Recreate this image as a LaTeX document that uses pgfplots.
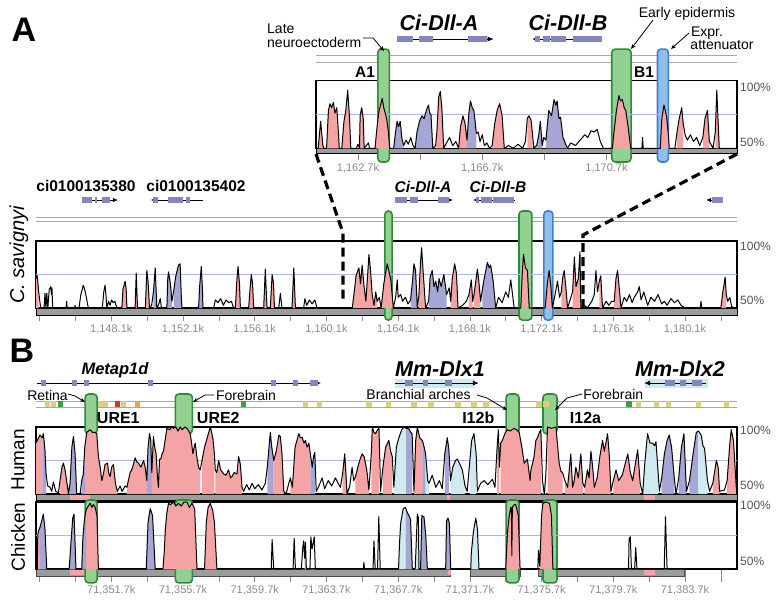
\documentclass[border=0pt]{standalone}
\usepackage{fontspec}
\setmainfont{Liberation Sans}
\usepackage{pgfplots}
\usepackage{pgfplotstable}
\pgfplotsset{compat=1.18}
\usetikzlibrary{arrows.meta}

\definecolor{pinkc}{HTML}{F4A4A4}
\definecolor{purpc}{HTML}{A6A6D4}
\definecolor{lbluec}{HTML}{CFE9F1}
\definecolor{exonc}{HTML}{8585C0}
\definecolor{gfill}{HTML}{93D193}
\definecolor{gline}{HTML}{2F8A3C}
\definecolor{bfill}{HTML}{92BFEA}
\definecolor{bline}{HTML}{3D7FCB}
\definecolor{gridc}{HTML}{B5B5E3}
\definecolor{trackc}{HTML}{A8A8A8}
\definecolor{barc}{HTML}{9C9C9C}
\definecolor{tickc}{HTML}{8A8A8A}
\definecolor{pctc}{HTML}{555555}
\definecolor{yelc}{HTML}{D9CF7E}
\definecolor{grnc}{HTML}{3E9E45}
\definecolor{redc}{HTML}{E0301E}
\definecolor{orac}{HTML}{F0A04A}

\newcommand{\fs}[1]{\fontsize{#1}{#1}\selectfont}
% coloured area under the curve between two data x values
\newcommand{\seg}[4]{\addplot[draw=none, fill=#2, restrict x to domain=#3:#4] table {#1} |- (#3,50) -- cycle;}
\newcommand{\regbox}[6]{\draw[rounded corners=3.5pt, line width=1.6pt, draw=#6, fill=#5] (#1,#3) rectangle (#2,#4);}
\newcommand{\pcts}[2]{%
  \node[anchor=west, font=\fs{12}, text=pctc, inner sep=1pt, xshift=2pt] at (rel axis cs:1,#1) {100\%};
  \node[anchor=west, font=\fs{12}, text=pctc, inner sep=1pt, xshift=2pt] at (rel axis cs:1,#2) {50\%};}

\pgfplotsset{
  vista/.style={
    scale only axis, anchor=north west, clip=false,
    xmin=0, xmax=39.1, ymin=50, ymax=100,
    width=701pt, height=67pt,
    ytick=\empty, xtick=\empty,
    axis line style={line width=1.1pt},
    tick pos=left, tick align=outside,
    major tick length=13pt, minor tick length=13pt,
    tick style={tickc, line width=0.7pt},
    xticklabel style={font=\fs{11}, text=tickc},
  },
  curve/.style={black, line width=1pt, line join=round},
}

% C. savignyi, zoomed (kb from 1,161.35k)
\pgfplotstableread{
x y
0.00 50
0.07 50
0.15 70
0.22 52
0.26 50
0.34 50
0.40 78
0.45 83
0.50 80
0.56 84
0.61 76
0.67 80
0.72 62
0.75 50
0.83 50
0.90 70
0.96 78
1.02 93
1.08 72
1.12 50
1.30 50
1.35 53
1.40 50
1.42 74
1.47 80
1.52 72
1.55 50
1.69 54
1.72 50
1.90 50
1.94 60
1.98 69
2.03 78
2.08 82
2.13 87
2.18 80
2.23 76
2.28 71
2.33 62
2.37 50
2.50 50
2.55 60
2.61 70
2.66 66
2.71 70
2.76 58
2.82 52
2.90 56
2.97 53
3.05 58
3.12 52
3.19 50
3.25 62
3.33 70
3.41 74
3.48 72
3.55 78
3.62 82
3.66 76
3.70 75
3.76 50
3.85 52
3.89 62
3.95 88
4.00 92
4.05 80
4.11 50
4.20 54
4.30 58
4.40 52
4.50 55
4.59 50
4.65 66
4.73 74
4.80 68
4.86 56
4.92 76
4.97 85
5.03 80
5.08 78
5.12 70
5.16 61
5.22 62
5.28 55
5.35 60
5.42 52
5.50 54
5.58 50
5.67 52
5.75 68
5.83 78
5.91 83
5.99 74
6.06 50
6.20 52
6.35 50
6.50 53
6.65 50
6.74 55
6.80 72
6.85 74
6.92 71
6.97 60
7.01 50
7.10 52
7.17 60
7.22 70
7.28 52
7.33 58
7.40 56
7.49 78
7.58 74
7.66 86
7.72 82
7.76 85
7.82 72
7.87 73
7.95 58
8.09 50
8.20 54
8.35 52
8.50 56
8.65 60
8.75 58
8.85 63
8.95 62
9.05 64
9.15 55
9.25 50
9.54 50
9.59 62
9.67 78
9.75 89
9.80 85
9.86 86
9.92 80
9.97 78
10.05 65
10.13 50
10.49 50
10.51 58
10.53 50
11.08 50
11.13 72
11.20 82
11.28 74
11.34 60
11.37 50
11.55 50
11.62 62
11.69 72
11.77 80
11.82 68
11.88 60
11.95 56
12.05 60
12.15 55
12.25 58
12.35 52
12.45 58
12.52 72
12.60 78
12.66 55
12.78 50
12.85 62
12.90 93
12.95 65
12.98 50
13.55 50
}\zoomA

% C. savignyi, whole locus (kb from 1,143.9k)
\pgfplotstableread{
x y
0.00 72
0.07 74
0.15 62
0.26 50
0.45 50
0.50 61
0.55 50
0.60 61
0.66 50
0.74 64
0.82 66
0.86 60
0.89 65
0.93 50
1.68 50
1.71 55
1.74 50
2.16 50
2.18 52
2.20 50
2.40 50
2.50 60
2.64 67
2.75 62
2.92 50
3.70 50
3.78 62
3.85 67
3.90 60
3.95 50
4.05 55
4.13 52
4.22 56
4.30 54
4.40 55
4.51 50
4.79 50
4.85 64
4.97 70
5.03 64
5.07 50
5.53 50
5.59 76
5.66 50
6.10 50
6.18 78
6.25 70
6.33 50
6.45 52
6.55 62
6.65 80
6.74 50
6.85 53
6.93 57
7.00 50
7.30 50
7.35 72
7.39 77
7.50 68
7.58 55
7.67 62
7.80 74
7.95 82
8.04 83
8.10 60
8.14 50
9.07 50
9.12 65
9.22 81
9.28 65
9.31 50
9.91 50
10.00 56
10.15 54
10.30 57
10.45 52
10.60 56
10.75 54
10.90 55
11.02 50
11.12 50
11.20 70
11.27 81
11.35 68
11.40 50
11.86 50
11.95 66
12.01 75
12.08 68
12.14 50
12.70 50
12.79 79
12.85 60
12.89 50
13.07 50
13.17 75
13.25 68
13.30 50
13.54 50
13.63 61
13.72 50
14.28 50
14.38 80
14.47 50
14.93 50
15.00 57
15.10 52
15.25 56
15.40 53
15.55 56
15.68 50
17.64 50
17.75 62
17.85 74
17.95 78
18.01 80
18.10 68
18.19 82
18.30 66
18.40 55
18.50 75
18.57 90
18.66 78
18.75 60
18.85 52
18.95 62
19.03 55
19.15 58
19.25 50
19.40 68
19.50 76
19.59 83
19.68 78
19.80 70
19.93 50
20.06 58
20.15 71
20.20 58
20.34 60
20.45 55
20.60 58
20.75 53
20.89 56
21.00 70
21.08 83
21.17 78
21.27 50
21.36 60
21.45 85
21.51 95
21.58 80
21.73 50
21.90 55
21.98 73
22.10 78
22.20 66
22.30 70
22.40 62
22.48 72
22.60 66
22.75 75
22.90 60
23.05 65
23.13 55
23.22 72
23.35 83
23.45 76
23.54 50
23.80 52
24.00 55
24.15 60
24.28 71
24.36 55
24.43 60
24.55 72
24.62 79
24.70 70
24.80 55
24.90 64
25.00 72
25.18 84
25.28 80
25.36 82
25.50 70
25.64 50
25.80 58
26.00 54
26.20 62
26.35 58
26.48 71
26.58 60
26.67 50
27.04 50
27.12 75
27.19 90
27.30 80
27.41 78
27.51 50
28.40 50
28.52 68
28.62 78
28.72 66
28.80 50
28.95 60
29.09 70
29.20 58
29.30 62
29.37 72
29.46 78
29.55 66
29.65 50
29.93 62
30.03 88
30.12 66
30.25 72
30.34 92
30.39 50
30.60 52
30.75 50
31.00 55
31.14 60
31.23 78
31.32 62
31.42 70
31.50 74
31.60 50
31.80 55
31.95 52
32.10 55
32.25 55
32.35 72
32.44 78
32.53 65
32.63 50
32.81 58
32.95 55
33.10 60
33.25 54
33.37 58
33.56 62
33.65 66
33.75 56
33.90 62
34.12 52
34.30 58
34.50 55
34.70 60
34.90 53
35.05 55
35.20 52
35.42 57
35.60 54
35.80 56
35.98 52
36.20 50
37.05 50
37.09 55
37.13 50
38.20 50
38.31 62
38.44 73
38.50 60
38.58 55
38.70 58
38.80 51
38.96 50
39.10 50
}\savig

% mouse vs human (kb from 71,347.5k)
\pgfplotstableread{
x y
0.00 88
0.07 90
0.22 94
0.35 92
0.41 95
0.50 83
0.56 65
0.65 56
0.78 55
0.88 52
0.97 59
1.10 52
1.25 51
1.34 60
1.45 70
1.53 73
1.62 68
1.71 60
1.81 50
1.90 58
2.00 85
2.09 93
2.18 80
2.27 50
2.46 50
2.55 60
2.64 65
2.72 85
2.83 96
2.93 97
3.02 98
3.15 96
3.30 96
3.39 95
3.48 78
3.58 70
3.67 60
3.76 65
3.85 72
3.99 73
4.05 66
4.13 63
4.22 70
4.32 72
4.43 58
4.54 52
4.69 56
4.80 52
4.97 56
5.07 55
5.15 60
5.25 66
5.34 68
5.43 72
5.53 77
5.62 74
5.72 73
5.85 70
6.00 75
6.09 70
6.18 60
6.25 85
6.33 95
6.40 90
6.46 66
6.55 93
6.62 85
6.70 80
6.77 64
6.83 55
6.89 76
6.96 76
7.03 80
7.11 82
7.20 90
7.30 99
7.45 98
7.58 100
7.67 99
7.80 100
7.92 97
8.04 100
8.15 98
8.30 100
8.42 99
8.52 97
8.60 95
8.68 88
8.75 80
8.82 85
8.88 88
8.97 78
9.07 70
9.16 68
9.26 75
9.40 85
9.55 92
9.72 100
9.80 96
9.87 91
9.95 80
10.00 68
10.08 66
10.19 75
10.30 68
10.47 65
10.60 64
10.74 68
10.85 62
10.93 63
11.05 66
11.21 65
11.30 78
11.40 72
11.49 55
11.58 52
11.75 57
11.90 53
12.05 58
12.20 54
12.40 57
12.60 53
12.79 58
12.90 70
13.07 96
13.15 85
13.26 75
13.40 82
13.55 94
13.63 93
13.72 80
13.82 52
13.95 50
14.10 58
14.19 62
14.30 55
14.45 85
14.66 95
14.75 92
14.85 92
14.95 88
15.03 90
15.12 85
15.22 88
15.30 80
15.41 70
15.48 78
15.55 81
15.63 52
15.75 55
15.96 62
16.10 54
16.30 60
16.50 56
16.70 62
16.85 58
16.98 55
17.10 65
17.22 80
17.30 62
17.35 50
17.50 56
17.63 70
17.72 60
17.82 63
17.95 70
18.05 75
18.19 80
18.30 78
18.45 68
18.57 53
18.70 80
18.76 100
18.85 96
18.94 95
19.05 98
19.13 99
19.22 52
19.35 70
19.50 85
19.68 90
19.78 82
19.87 78
19.96 55
20.10 85
20.24 92
20.40 98
20.52 100
20.65 99
20.79 99
20.90 96
20.98 95
21.08 52
21.18 90
21.27 100
21.40 92
21.55 90
21.65 85
21.73 80
21.85 60
21.92 58
22.10 64
22.30 55
22.50 60
22.66 54
22.80 80
22.94 92
23.03 83
23.12 60
23.25 70
23.40 75
23.50 76
23.65 72
23.78 68
23.93 56
24.05 52
24.20 75
24.30 90
24.43 95
24.55 80
24.62 52
24.80 58
25.00 60
25.20 57
25.46 61
25.60 55
25.72 85
25.79 98
25.85 70
25.92 88
26.01 90
26.15 95
26.29 98
26.45 97
26.67 99
26.80 98
26.95 96
27.10 85
27.23 73
27.41 76
27.50 66
27.56 60
27.60 68
27.70 73
27.78 78
27.88 90
27.97 92
28.08 96
28.16 98
28.25 60
28.35 50
28.44 65
28.53 100
28.75 99
29.00 100
29.18 73
29.28 67
29.37 66
29.50 60
29.65 55
29.83 80
29.93 55
30.02 60
30.11 70
30.25 62
30.39 80
30.50 58
30.60 55
30.76 68
30.85 62
30.95 82
31.05 70
31.14 55
31.30 62
31.45 78
31.60 90
31.70 82
31.88 95
31.97 80
32.07 52
32.20 60
32.35 68
32.50 60
32.70 64
32.85 72
33.01 80
33.15 66
33.28 60
33.40 70
33.56 83
33.70 58
33.84 50
33.95 72
34.11 95
34.25 88
34.39 88
34.50 86
34.58 89
34.68 70
34.77 52
34.90 62
35.05 80
35.20 90
35.32 94
35.45 85
35.60 62
35.70 50
35.85 62
36.00 85
36.14 95
36.28 52
36.45 60
36.65 80
36.83 96
36.95 97
37.10 94
37.20 86
37.29 84
37.45 60
37.57 52
37.75 58
37.95 75
38.05 70
38.13 52
38.40 53
38.55 60
38.70 88
38.78 98
38.90 90
39.06 55
39.10 50
}\human

% mouse vs chicken (kb from 71,347.5k)
\pgfplotstableread{
x y
0.00 50
0.07 50
0.10 75
0.13 78
0.22 81
0.32 86
0.41 91
0.50 80
0.60 50
1.85 50
1.95 70
2.05 88
2.12 91
2.23 50
2.55 50
2.61 72
2.68 84
2.76 92
2.83 95
2.92 97
3.02 99
3.12 96
3.20 98
3.30 96
3.40 90
3.48 50
6.15 50
6.25 85
6.37 95
6.50 90
6.65 50
7.08 50
7.15 62
7.21 79
7.30 92
7.39 99
7.50 98
7.67 100
7.80 97
7.95 99
8.10 97
8.25 100
8.42 100
8.55 96
8.70 99
8.85 95
8.98 50
9.40 50
9.50 85
9.60 96
9.72 99
9.85 94
9.95 85
10.09 50
13.12 50
13.17 72
13.26 50
14.34 50
14.40 73
14.47 50
14.80 50
14.88 66
14.93 71
14.98 58
15.03 70
15.08 50
15.28 50
15.33 74
15.40 65
15.47 70
15.52 74
15.58 50
18.26 50
18.29 55
18.32 50
18.80 50
18.85 71
18.92 50
19.05 50
19.12 89
19.20 50
20.22 50
20.28 70
20.34 84
20.48 95
20.61 96
20.71 92
20.80 90
20.89 87
20.99 50
21.15 50
21.27 91
21.33 88
21.36 50
21.45 50
21.52 90
21.58 89
21.64 89
21.74 75
21.83 50
22.85 50
22.90 86
22.98 88
23.06 84
23.13 50
24.25 50
24.28 62
24.40 78
24.53 88
24.62 80
24.71 50
26.20 50
26.30 78
26.39 89
26.48 96
26.52 95
26.54 60
26.57 96
26.67 98
26.76 98
26.90 90
27.00 50
27.99 50
28.03 64
28.10 52
28.20 90
28.27 99
28.45 100
28.64 99
28.75 90
28.83 50
33.05 50
33.08 73
33.15 74
33.21 50
33.39 50
33.45 66
33.52 50
35.04 50
35.11 89
35.20 50
39.10 50
}\chicken

\begin{document}
\begin{tikzpicture}
\useasboundingbox (0,0) rectangle (776pt,-605pt);

%---------------- A, zoomed window ----------------
\begin{axis}[vista, at={(316pt,-80.7pt)}, width=421pt, height=67.6pt, xmax=13.55,
  xtick={1.35,5.35,9.35}, xticklabels={{1,162.7k},{1,166.7k},{1,170.7k}},
  minor xtick={3.35,7.35,11.35}, major tick length=12pt, minor tick length=12pt]
  \draw[trackc, line width=1pt] (0,118.3) -- (13.55,118.3) (0,113.8) -- (13.55,113.8);
  \draw[line width=0.9pt, -{Latex[length=6pt,width=5pt]}] (2.61,130.8) -- (5.72,130.8);
  \fill[exonc] (2.61,128.7) rectangle (3.12,132.9);
  \fill[exonc] (3.32,128.7) rectangle (3.77,132.9);
  \fill[exonc] (4.89,128.7) rectangle (5.50,132.9);
  \draw[line width=0.9pt, -{Latex[length=6pt,width=5pt]}] (9.21,130.8) -- (6.95,130.8);
  \fill[exonc] (7.05,128.7) rectangle (7.21,132.9);
  \fill[exonc] (7.31,128.7) rectangle (7.53,132.9);
  \fill[exonc] (7.56,128.7) rectangle (8.05,132.9);
  \fill[exonc] (8.27,128.7) rectangle (9.21,132.9);
  \filldraw[fill=barc, draw=black, line width=0.6pt] (0,50) rectangle (13.55,46.2);
  \regbox{1.99}{2.36}{39.9}{123.4}{gfill}{gline}
  \regbox{9.52}{10.14}{39.9}{123.4}{gfill}{gline}
  \regbox{10.99}{11.34}{39.9}{123.4}{bfill}{bline}
  \draw[gridc, line width=0.8pt] (0,75) -- (13.55,75);
  \seg{\zoomA}{pinkc}{0.07}{0.26}
  \seg{\zoomA}{pinkc}{0.34}{0.75}
  \seg{\zoomA}{pinkc}{0.83}{1.12}
  \seg{\zoomA}{pinkc}{1.40}{1.55}
  \seg{\zoomA}{pinkc}{1.90}{2.37}
  \seg{\zoomA}{purpc}{2.50}{2.82}
  \seg{\zoomA}{purpc}{3.19}{3.76}
  \seg{\zoomA}{pinkc}{3.85}{4.11}
  \seg{\zoomA}{pinkc}{4.59}{4.86}
  \seg{\zoomA}{purpc}{4.86}{5.16}
  \seg{\zoomA}{pinkc}{5.67}{6.06}
  \seg{\zoomA}{pinkc}{6.80}{6.97}
  \seg{\zoomA}{purpc}{7.10}{7.28}
  \seg{\zoomA}{purpc}{7.40}{8.09}
  \seg{\zoomA}{pinkc}{9.54}{10.13}
  \seg{\zoomA}{pinkc}{11.08}{11.37}
  \seg{\zoomA}{pinkc}{11.62}{11.82}
  \seg{\zoomA}{pinkc}{12.45}{12.66}
  \seg{\zoomA}{pinkc}{12.85}{12.98}
  \addplot[curve] table {\zoomA};
  \pcts{0.907}{0.093}
\end{axis}

%---------------- A, C. savignyi locus ----------------
\begin{axis}[vista, at={(36pt,-241pt)},
  xtick={4.2,8.2,12.2,16.2,20.2,24.2,28.2,32.2,36.2},
  xticklabels={{1,148.1k},{1,152.1k},{1,156.1k},{1,160.1k},{1,164.1k},{1,168.1k},{1,172.1k},{1,176.1k},{1,180.1k}},
  minor xtick={0.2,2.2,6.2,10.2,14.2,18.2,22.2,26.2,30.2,34.2,38.2}]
  \draw[trackc, line width=1pt] (0,117.9) -- (39.1,117.9) (0,114.2) -- (39.1,114.2);
  \draw[line width=0.8pt, -{Latex[length=5pt,width=4.5pt]}] (2.57,130.6) -- (4.57,130.6);
  \fill[exonc] (2.57,128.7) rectangle (3.12,132.5);
  \fill[exonc] (3.29,128.7) rectangle (3.40,132.5);
  \fill[exonc] (3.68,128.7) rectangle (4.13,132.5);
  \draw[line width=0.8pt, -{Latex[length=5pt,width=4.5pt]}] (9.31,130.6) -- (6.40,130.6);
  \fill[exonc] (6.53,128.7) rectangle (6.80,132.5);
  \fill[exonc] (7.36,128.7) rectangle (8.20,132.5);
  \fill[exonc] (8.37,128.7) rectangle (8.59,132.5);
  \draw[line width=0.8pt, -{Latex[length=5pt,width=4.5pt]}] (20.02,130.6) -- (23.25,130.6);
  \fill[exonc] (20.02,128.7) rectangle (20.69,132.5);
  \fill[exonc] (20.86,128.7) rectangle (21.30,132.5);
  \fill[exonc] (22.42,128.7) rectangle (23.03,132.5);
  \draw[line width=0.8pt, -{Latex[length=5pt,width=4.5pt]}] (26.71,130.6) -- (24.38,130.6);
  \fill[exonc] (24.54,128.7) rectangle (24.71,132.5);
  \fill[exonc] (24.82,128.7) rectangle (25.43,132.5);
  \fill[exonc] (25.49,128.7) rectangle (26.66,132.5);
  \draw[line width=0.8pt, -{Latex[length=5pt,width=4.5pt]}] (38.32,130.6) -- (37.38,130.6);
  \fill[exonc] (37.70,128.7) rectangle (38.32,132.5);
  \filldraw[fill=barc, draw=black, line width=0.6pt] (0,50) rectangle (39.1,44.8);
  \regbox{19.46}{19.86}{41}{122.4}{gfill}{gline}
  \regbox{26.94}{27.66}{41}{122.4}{gfill}{gline}
  \regbox{28.33}{28.83}{41}{122.4}{bfill}{bline}
  \draw[gridc, line width=0.8pt] (0,75) -- (39.1,75);
  \seg{\savig}{pinkc}{0}{0.15}
  \seg{\savig}{pinkc}{4.79}{5.07}
  \seg{\savig}{pinkc}{5.53}{5.66}
  \seg{\savig}{pinkc}{6.10}{6.33}
  \seg{\savig}{purpc}{6.55}{6.74}
  \seg{\savig}{purpc}{7.30}{7.58}
  \seg{\savig}{purpc}{7.67}{8.14}
  \seg{\savig}{purpc}{9.07}{9.31}
  \seg{\savig}{pinkc}{11.12}{11.40}
  \seg{\savig}{pinkc}{11.86}{12.14}
  \seg{\savig}{pinkc}{12.70}{12.89}
  \seg{\savig}{pinkc}{13.07}{13.30}
  \seg{\savig}{pinkc}{14.28}{14.47}
  \seg{\savig}{pinkc}{17.64}{19.03}
  \seg{\savig}{pinkc}{19.25}{19.93}
  \seg{\savig}{purpc}{20.89}{21.27}
  \seg{\savig}{pinkc}{21.36}{21.73}
  \seg{\savig}{purpc}{21.90}{22.90}
  \seg{\savig}{pinkc}{23.13}{23.54}
  \seg{\savig}{pinkc}{24.15}{24.36}
  \seg{\savig}{pinkc}{24.43}{24.80}
  \seg{\savig}{purpc}{24.90}{25.64}
  \seg{\savig}{pinkc}{27.04}{27.51}
  \seg{\savig}{pinkc}{28.40}{28.80}
  \seg{\savig}{pinkc}{29.30}{29.65}
  \seg{\savig}{pinkc}{29.93}{30.39}
  \seg{\savig}{pinkc}{31.42}{31.60}
  \seg{\savig}{pinkc}{32.25}{32.63}
  \seg{\savig}{pinkc}{38.20}{38.50}
  \addplot[curve] table {\savig};
  \pcts{0.925}{0.12}
\end{axis}

%---------------- B, human ----------------
\begin{axis}[vista, at={(36pt,-427pt)}]
  \fill[lbluec] (20.02,129.1) rectangle (24.48,135.8);
  \fill[lbluec] (33.97,129.1) rectangle (37.48,135.8);
  \draw[line width=0.8pt, -{Latex[length=6pt,width=5pt]}] (0.06,132.8) -- (15.90,132.8);
  \fill[exonc] (0.28,130.6) rectangle (0.56,135.0);
  \fill[exonc] (2.01,130.6) rectangle (2.29,135.0);
  \fill[exonc] (2.68,130.6) rectangle (2.96,135.0);
  \fill[exonc] (6.25,130.6) rectangle (6.53,135.0);
  \fill[exonc] (13.11,130.6) rectangle (13.39,135.0);
  \fill[exonc] (14.33,130.6) rectangle (14.61,135.0);
  \fill[exonc] (15.28,130.6) rectangle (15.73,135.0);
  \draw[line width=0.8pt, -{Latex[length=6pt,width=5pt]}] (20.02,132.8) -- (24.70,132.8);
  \fill[exonc] (20.58,130.6) rectangle (21.03,135.0);
  \fill[exonc] (21.58,130.6) rectangle (21.86,135.0);
  \fill[exonc] (22.81,130.6) rectangle (23.20,135.0);
  \draw[line width=0.8pt, -{Latex[length=6pt,width=5pt]}] (37.37,132.8) -- (33.92,132.8);
  \fill[exonc] (35.08,130.6) rectangle (35.64,135.0);
  \fill[exonc] (35.92,130.6) rectangle (36.25,135.0);
  \fill[exonc] (36.59,130.6) rectangle (37.15,135.0);
  \draw[trackc, line width=1pt] (0,118.7) -- (39.1,118.7) (0,114.6) -- (39.1,114.6);
  \addplot[only marks, mark=square*, mark size=2.2pt, color=yelc] coordinates {
    (0.61,117.4)(0.95,117.4)(3.58,117.4)(3.85,117.4)(4.86,117.4)(15.03,117.4)(15.81,117.4)
    (18.55,117.4)(19.66,117.4)(21.06,117.4)(22.01,117.4)(23.52,117.4)(24.41,117.4)(25.08,117.4)
    (28.04,117.4)(28.44,117.4)(33.58,117.4)(34.58,117.4)(35.25,117.4)(36.93,117.4)(38.49,117.4)};
  \addplot[only marks, mark=square*, mark size=2.2pt, color=grnc] coordinates {(1.34,117.4)(11.56,117.4)(33.07,117.4)};
  \addplot[only marks, mark=square*, mark size=2.2pt, color=redc] coordinates {(4.53,117.4)};
  \addplot[only marks, mark=square*, mark size=2.2pt, color=orac] coordinates {(5.64,117.4)};
  \filldraw[fill=barc, draw=black, line width=0.6pt] (0,50) rectangle (39.1,45.5);
  \fill[pinkc] (1.9,49.6) rectangle (3.0,45.9);
  \fill[pinkc] (22.9,49.6) rectangle (23.1,45.9);
  \fill[pinkc] (33.9,49.6) rectangle (34.5,45.9);
  \regbox{2.74}{3.41}{95}{124.6}{gfill}{gline}
  \regbox{7.77}{8.72}{95}{124.6}{gfill}{gline}
  \regbox{26.22}{26.94}{95}{124.6}{gfill}{gline}
  \regbox{28.28}{29.06}{95}{124.6}{gfill}{gline}
  \draw[gridc, line width=0.8pt] (0,75) -- (39.1,75);
  \seg{\human}{pinkc}{0.00}{0.35}
  \seg{\human}{purpc}{0.35}{0.56}
  \seg{\human}{pinkc}{1.34}{1.81}
  \seg{\human}{purpc}{1.81}{2.27}
  \seg{\human}{purpc}{2.55}{2.72}
  \seg{\human}{pinkc}{2.72}{4.54}
  \seg{\human}{pinkc}{5.07}{6.18}
  \seg{\human}{purpc}{6.18}{6.46}
  \seg{\human}{pinkc}{6.46}{9.16}
  \seg{\human}{pinkc}{9.26}{9.95}
  \seg{\human}{pinkc}{10.00}{11.49}
  \seg{\human}{purpc}{12.90}{13.26}
  \seg{\human}{pinkc}{13.26}{13.82}
  \seg{\human}{pinkc}{14.19}{15.30}
  \seg{\human}{purpc}{15.30}{15.55}
  \seg{\human}{pinkc}{17.10}{17.35}
  \seg{\human}{pinkc}{17.82}{18.57}
  \seg{\human}{pinkc}{18.70}{19.13}
  \seg{\human}{pinkc}{19.35}{19.87}
  \seg{\human}{lbluec}{19.96}{20.65}
  \seg{\human}{purpc}{20.65}{20.98}
  \seg{\human}{pinkc}{21.08}{21.55}
  \seg{\human}{purpc}{21.55}{21.73}
  \seg{\human}{lbluec}{21.73}{21.92}
  \seg{\human}{purpc}{22.80}{23.03}
  \seg{\human}{lbluec}{23.12}{23.93}
  \seg{\human}{lbluec}{24.20}{24.55}
  \seg{\human}{pinkc}{25.72}{25.85}
  \seg{\human}{pinkc}{25.92}{28.16}
  \seg{\human}{lbluec}{28.25}{28.44}
  \seg{\human}{pinkc}{28.53}{29.37}
  \seg{\human}{pinkc}{29.50}{30.50}
  \seg{\human}{pinkc}{30.60}{32.07}
  \seg{\human}{pinkc}{32.20}{33.70}
  \seg{\human}{lbluec}{33.84}{34.68}
  \seg{\human}{purpc}{34.90}{35.60}
  \seg{\human}{purpc}{35.85}{36.28}
  \seg{\human}{purpc}{36.45}{36.95}
  \seg{\human}{lbluec}{36.95}{37.45}
  \seg{\human}{pinkc}{37.75}{38.13}
  \seg{\human}{pinkc}{38.55}{39.06}
  \addplot[curve] table {\human};
  \pcts{0.955}{0.134}
\end{axis}

%---------------- B, chicken ----------------
\begin{axis}[vista, at={(36pt,-502pt)},
  xtick={4.2,8.2,12.2,16.2,20.2,24.2,28.2,32.2,36.2},
  xticklabels={{71,351.7k},{71,355.7k},{71,359.7k},{71,363.7k},{71,367.7k},{71,371.7k},{71,375.7k},{71,379.7k},{71,383.7k}},
  minor xtick={0.2,2.2,6.2,10.2,14.2,18.2,22.2,26.2,30.2,34.2,38.2}]
  \filldraw[fill=barc, draw=gray!60!black, line width=0.5pt] (0,50) rectangle (23.13,44.8);
  \filldraw[fill=barc, draw=gray!60!black, line width=0.5pt] (24.2,50) rectangle (27.0,44.8);
  \filldraw[fill=barc, draw=gray!60!black, line width=0.5pt] (28.0,50) rectangle (36.16,44.8);
  \fill[pinkc] (1.9,49.5) rectangle (3.0,45.3);
  \fill[pinkc] (22.96,49.5) rectangle (23.13,45.3);
  \fill[pinkc] (33.9,49.5) rectangle (34.5,45.3);
  \regbox{2.74}{3.41}{39.6}{101.5}{gfill}{gline}
  \regbox{7.77}{8.72}{39.6}{101.5}{gfill}{gline}
  \regbox{26.22}{26.94}{39.6}{101.5}{gfill}{gline}
  \regbox{28.28}{29.06}{39.6}{101.5}{gfill}{gline}
  \draw[gridc, line width=0.8pt] (0,75) -- (39.1,75);
  \seg{\chicken}{pinkc}{0.07}{0.22}
  \seg{\chicken}{purpc}{0.22}{0.60}
  \seg{\chicken}{purpc}{1.85}{2.23}
  \seg{\chicken}{purpc}{2.55}{2.76}
  \seg{\chicken}{pinkc}{2.76}{3.48}
  \seg{\chicken}{purpc}{6.15}{6.65}
  \seg{\chicken}{pinkc}{7.08}{8.98}
  \seg{\chicken}{pinkc}{9.40}{10.09}
  \seg{\chicken}{pinkc}{14.98}{15.08}
  \seg{\chicken}{lbluec}{20.22}{20.61}
  \seg{\chicken}{purpc}{20.61}{20.99}
  \seg{\chicken}{lbluec}{21.15}{21.36}
  \seg{\chicken}{purpc}{21.45}{21.83}
  \seg{\chicken}{purpc}{22.85}{23.13}
  \seg{\chicken}{lbluec}{24.25}{24.71}
  \seg{\chicken}{pinkc}{26.20}{27.00}
  \seg{\chicken}{pinkc}{28.10}{28.83}
  \addplot[curve] table {\chicken};
  \pcts{0.955}{0.12}
\end{axis}

%---------------- labels and connectors ----------------
\begin{scope}[x=1pt, y=-1pt]
  \draw[line width=3.2pt, dash pattern=on 9pt off 5pt] (316,154) -- (343,233) -- (343,302);
  \draw[line width=3.2pt, dash pattern=on 9pt off 5pt] (737,154) -- (583,235) -- (583,307);

  \node[font=\fs{34}\bfseries, inner sep=0] at (24,30) {A};
  \node[font=\fs{34}\bfseries, inner sep=0] at (22,351) {B};

  \node[anchor=base west, font=\fs{14}, inner sep=0] at (267,33.3) {Late};
  \node[anchor=base west, font=\fs{14}, inner sep=0] at (267,47.3) {neuroectoderm};
  \draw[line width=0.8pt, -{Stealth[length=5pt,width=4pt]}] (363,38) -- (373,38) -- (384,51);
  \node[anchor=base, font=\fs{14}, inner sep=0] at (687,17.3) {Early epidermis};
  \draw[line width=0.8pt, -{Stealth[length=5pt,width=4pt]}] (653,20) -- (631,49);
  \node[anchor=base, font=\fs{14}, inner sep=0] at (707,36) {Expr.};
  \node[anchor=base, font=\fs{14}, inner sep=0] at (722,49.3) {attenuator};
  \draw[line width=0.8pt, -{Stealth[length=5pt,width=4pt]}] (689,33) -- (671,49);
  \node[anchor=base, font=\fs{21.5}\bfseries\itshape, inner sep=0] at (439,30.7) {Ci-Dll-A};
  \node[anchor=base, font=\fs{21.5}\bfseries\itshape, inner sep=0] at (568,30.7) {Ci-Dll-B};
  \node[anchor=base, font=\fs{15.5}\bfseries, inner sep=0] at (365,77.5) {A1};
  \node[anchor=base, font=\fs{15.5}\bfseries, inner sep=0] at (644,77.5) {B1};

  \node[anchor=base, font=\fs{15.5}\bfseries, inner sep=0] at (86,191.7) {ci0100135380};
  \node[anchor=base, font=\fs{15.5}\bfseries, inner sep=0] at (196,191.7) {ci0100135402};
  \node[anchor=base, font=\fs{15.5}\bfseries\itshape, inner sep=0] at (423,192.7) {Ci-Dll-A};
  \node[anchor=base, font=\fs{15.5}\bfseries\itshape, inner sep=0] at (498,192.7) {Ci-Dll-B};
  \node[rotate=90, font=\fs{20}\itshape, inner sep=0] at (19,255) {C. savignyi};

  \node[anchor=base, font=\fs{16.5}\bfseries\itshape, inner sep=0] at (115,374.3) {Metap1d};
  \node[anchor=base, font=\fs{21.5}\bfseries\itshape, inner sep=0] at (440,376.7) {Mm-Dlx1};
  \node[anchor=base, font=\fs{21.5}\bfseries\itshape, inner sep=0] at (680,376.7) {Mm-Dlx2};
  \node[anchor=base, font=\fs{14}, inner sep=0] at (47.5,400) {Retina};
  \draw[line width=0.8pt, -{Stealth[length=5pt,width=4pt]}] (68,394) -- (75,396) -- (85,402);
  \node[anchor=base, font=\fs{14}, inner sep=0] at (246,400) {Forebrain};
  \draw[line width=0.8pt, -{Stealth[length=5pt,width=4pt]}] (214,395) -- (205,395) -- (193,402);
  \node[anchor=base, font=\fs{16}\bfseries, inner sep=0] at (118.3,423.3) {URE1};
  \node[anchor=base, font=\fs{16}\bfseries, inner sep=0] at (218.3,423.3) {URE2};
  \node[anchor=base, font=\fs{14}, inner sep=0] at (418.6,399.3) {Branchial arches};
  \draw[line width=0.8pt, -{Stealth[length=5pt,width=4pt]}] (477,395) -- (487,398) -- (507,410);
  \node[anchor=base, font=\fs{16}\bfseries, inner sep=0] at (478.3,423.3) {I12b};
  \node[anchor=base, font=\fs{16}\bfseries, inner sep=0] at (585.5,423.3) {I12a};
  \node[anchor=base, font=\fs{14}, inner sep=0] at (613.3,399.3) {Forebrain};
  \draw[line width=0.8pt, -{Stealth[length=5pt,width=4pt]}] (582,394) -- (567,398) -- (555,410);
  \node[rotate=90, font=\fs{19}, inner sep=0] at (18,460) {Human};
  \node[rotate=90, font=\fs{19}, inner sep=0] at (18,537) {Chicken};
\end{scope}
\end{tikzpicture}
\end{document}
